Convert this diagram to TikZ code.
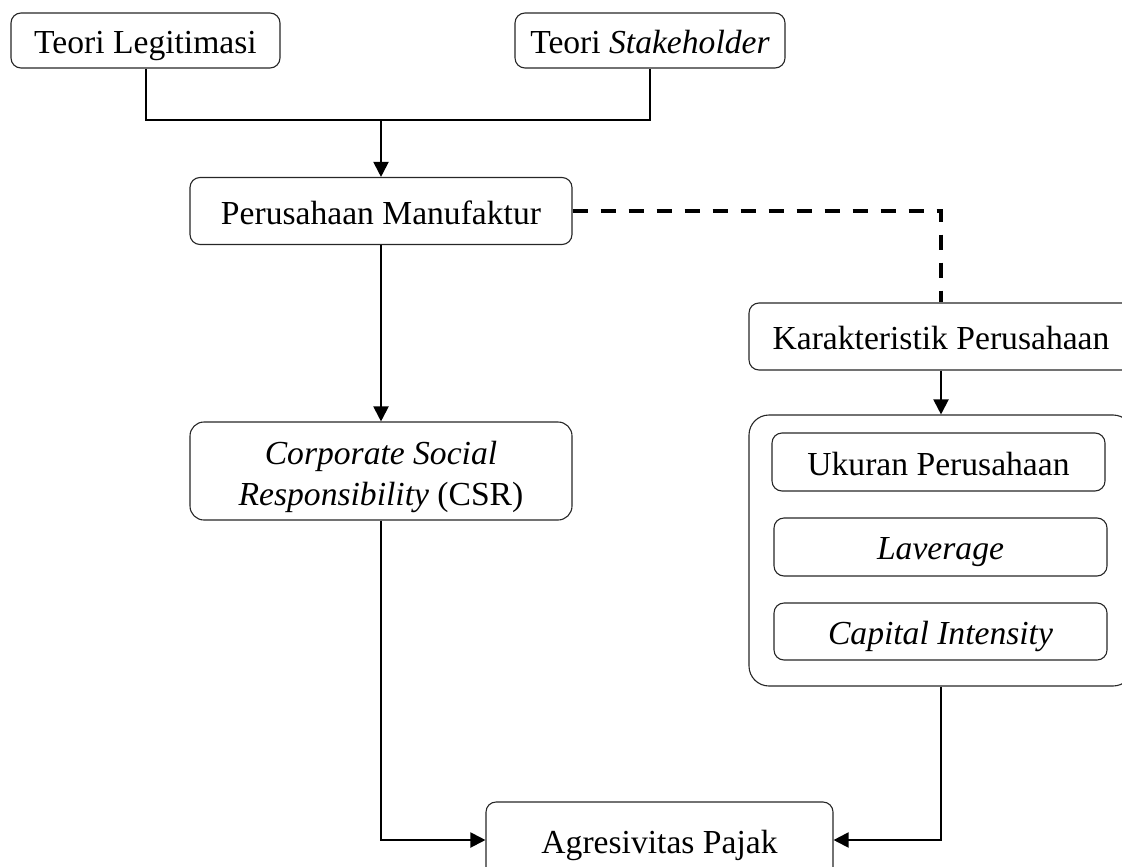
\documentclass[tikz,border=0pt]{standalone}
\usepackage{fontspec}
\setmainfont{Liberation Serif}
\usetikzlibrary{arrows.meta}
\begin{document}
\begin{tikzpicture}[x=0.5pt,y=-0.5pt,
  box/.style={draw=black!85, line width=0.55pt, rounded corners=5pt, inner sep=0pt,
    font=\fontsize{16.8}{21}\selectfont, text depth=0pt},
  conn/.style={line width=1pt, draw=black},
  arr/.style={conn, -{Triangle[length=7.5pt,width=7.5pt]}},
  dashline/.style={line width=1.9pt, dash pattern=on 7.5pt off 6.5pt}
]
\useasboundingbox (0,0) rectangle (1122,866);
\clip (0,0) rectangle (1122,866);
\newcommand{\dn}[1]{\raisebox{-1.5pt}{#1}}
\node[box, minimum width=269*0.5pt, minimum height=55*0.5pt] (leg) at (145.5,40.5) {\dn{Teori Legitimasi}};
\node[box, minimum width=270*0.5pt, minimum height=55*0.5pt] (stk) at (650,40.5) {\dn{Teori \textit{Stakeholder}}};
\node[box, minimum width=382*0.5pt, minimum height=67*0.5pt] (pm) at (381,211) {\dn{Perusahaan Manufaktur}};
\node[box, rounded corners=7pt, minimum width=382*0.5pt, minimum height=98*0.5pt, align=center] (csr) at (381,471) {\raisebox{-2.5pt}{\shortstack{\textit{Corporate Social}\\[2pt]\textit{Responsibility} (CSR)}}};
\node[box, minimum width=384*0.5pt, minimum height=67*0.5pt] (kar) at (941,336.5) {\dn{Karakteristik Perusahaan}};
\node[box, rounded corners=10pt, minimum width=384*0.5pt, minimum height=271*0.5pt] (big) at (941,550.5) {};
\node[box, minimum width=333*0.5pt, minimum height=58*0.5pt] (uk) at (938.5,462) {\dn{Ukuran Perusahaan}};
\node[box, minimum width=333*0.5pt, minimum height=58*0.5pt] (lav) at (940.5,547) {\dn{\textit{Laverage}}};
\node[box, minimum width=333*0.5pt, minimum height=57*0.5pt] (cap) at (940.5,631.5) {\dn{\textit{Capital Intensity}}};
\node[box, minimum width=347*0.5pt, minimum height=76*0.5pt] (agr) at (659.5,840) {\dn{Agresivitas Pajak}};
\coordinate (j) at (381,120);
\draw[conn] (leg.south) |- (j) -| (stk.south);
\draw[arr] (j) -- (pm.north);
\draw[arr] (pm.south) -- (csr.north);
\draw[dashline] (pm.east) -| (kar.north);
\draw[arr] (kar.south) -- (big.north);
\draw[arr] (csr.south) |- (agr.west);
\draw[arr] (big.south) |- (agr.east);
\end{tikzpicture}
\end{document}
